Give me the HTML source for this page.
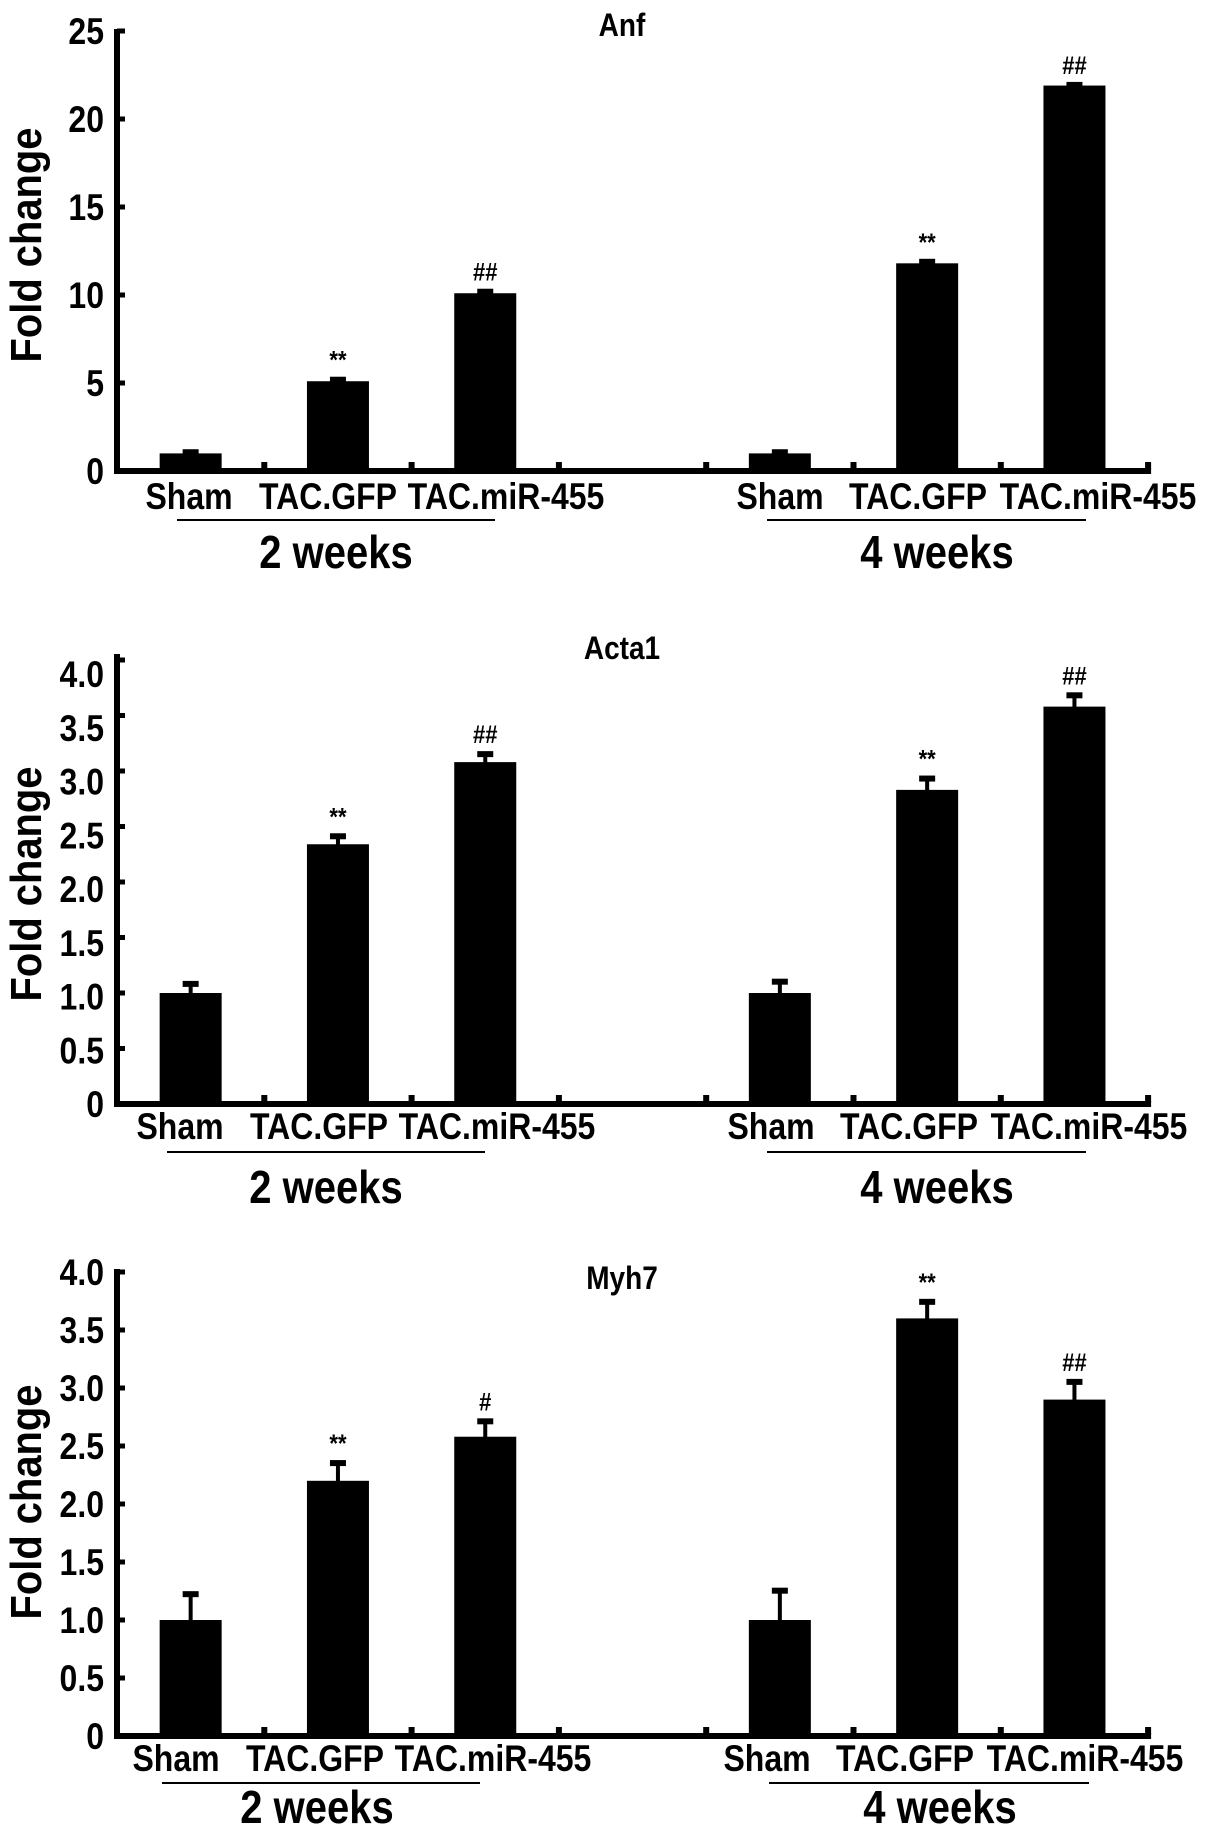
<!DOCTYPE html>
<html><head><meta charset="utf-8"><style>
html,body{margin:0;padding:0;background:#fff;}
svg{display:block;font-family:"Liberation Sans",Arial,sans-serif;font-weight:bold;}
</style></head>
<body>
<svg id="chart" width="1205" height="1847" viewBox="0 0 1205 1847" xmlns="http://www.w3.org/2000/svg"></svg>
<script>
// ----- shared categories -----
const categories = ["Sham","TAC.GFP","TAC.miR-455","Sham","TAC.GFP","TAC.miR-455"];
const slotIndex = [0,1,2,4,5,6];
const groups = ["2 weeks","4 weeks"];

// ----- Anf -----
const anfValues = [1.0, 5.1, 10.1, 1.0, 11.8, 21.9];
const anfErrors = [0.18, 0.2, 0.2, 0.18, 0.2, 0.15];
const anfMarks = ["", "**", "##", "", "**", "##"];
const anfTicks = [0,5,10,15,20,25];
const anfTickLabels = ["0","5","10","15","20","25"];

// ----- Acta1 -----
const actaValues = [1.0, 2.34, 3.08, 1.0, 2.83, 3.58];
const actaErrors = [0.1, 0.09, 0.09, 0.12, 0.12, 0.12];
const actaMarks = ["", "**", "##", "", "**", "##"];
const actaTicks = [0,0.5,1,1.5,2,2.5,3,3.5,4];
const actaTickLabels = ["0","0.5","1.0","1.5","2.0","2.5","3.0","3.5","4.0"];

// ----- Myh7 -----
const myhValues = [1.0, 2.2, 2.58, 1.0, 3.6, 2.9];
const myhErrors = [0.24, 0.17, 0.15, 0.27, 0.16, 0.17];
const myhMarks = ["", "**", "#", "", "**", "##"];
const myhTicks = [0,0.5,1,1.5,2,2.5,3,3.5,4];
const myhTickLabels = ["0","0.5","1.0","1.5","2.0","2.5","3.0","3.5","4.0"];

const svg = document.getElementById('chart');
const NS = "http://www.w3.org/2000/svg";
function mk(tag, attrs, parent){
  const e = document.createElementNS(NS, tag);
  for (const k in attrs) e.setAttribute(k, attrs[k]);
  (parent||svg).appendChild(e);
  return e;
}
function txt(parent, x, y, size, anchor, str){
  const e = mk('text', {x:0, y:0, 'font-size':size, 'text-anchor':anchor,
    transform:'translate(' + x + ',' + y + ') scale(1,1.15)'}, parent);
  e.textContent = str;
  return e;
}

const AX = 117, SLOT = 147.3, BARW = 62;
function xCenter(i){ return AX + (slotIndex[i] + 0.5) * SLOT; }

function drawPanel(cfg, values, errors, marks, ticks, tickLabels){
  const g = mk('g', {});
  
  
  const yScale = v => cfg.y0 - (v / cfg.max) * (cfg.y0 - cfg.yMax);

  const t = txt(g, 622, cfg.titleY, 28, 'middle', cfg.title);
  
  

  const yt = mk('text', {x:0, y:0, 'font-size':38, 'text-anchor':'middle',
    transform:'translate(41,' + cfg.yTitleY + ') rotate(-90) scale(1.05,1.15)'}, g);
  yt.textContent = 'Fold change';
  
  

  const ya = mk('rect', {x:AX-3, y:cfg.axisTop, width:6, height:cfg.y0 - cfg.axisTop + 3, fill:'#000'}, g);
  
  
  ticks.forEach((v, i) => {
    const y = yScale(v);
    const tk = mk('rect', {x:AX, y:y-2.5, width:8, height:5, fill:'#000'}, g);
    
    
    const lab = txt(g, 104, y + 13 + cfg.labShift * v, 32, 'end', tickLabels[i]);
    
    
  });

  const xa = mk('rect', {x:AX-3, y:cfg.y0-3, width:7*SLOT + 6, height:6, fill:'#000'}, g);
  
  
  for (let k = 1; k <= 7; k++){
    const tk = mk('rect', {x:AX + k*SLOT - 3, y:cfg.y0-9, width:6, height:7, fill:'#000'}, g);
    
    
  }

  values.forEach((v, i) => {
    const cx = xCenter(i);
    const top = yScale(v);
    const bar = mk('rect', {x:cx - BARW/2, y:top, width:BARW, height:cfg.y0 - top, fill:'#000'}, g);
    
    
    const et = yScale(v + errors[i]);
    const stem = mk('rect', {x:cx-2, y:et, width:4, height:top - et + 1, fill:'#000'}, g);
    
    
    const cap = mk('rect', {x:cx-8, y:et-1, width:16, height:6, fill:'#000'}, g);
    
    
    if (marks[i]){
      const m = txt(g, cx, et - 9, 22, 'middle', marks[i]);
      
      
    }
    const cl = txt(g, cfg.labCenters[i] + cfg.labDx, cfg.labY, 32, 'middle', categories[i]);
    
    
  });

  groups.forEach((gname, j) => {
    const u = cfg.under[j];
    const ln = mk('rect', {x:u[0], y:cfg.underY, width:u[1]-u[0], height:2, fill:'#000'}, g);
    
    
    const gl = txt(g, cfg.groupX[j], cfg.groupY, 40, 'middle', gname);
    
    
  });
}

const labCenters = [189, 328, 506, 780, 918, 1098];

drawPanel({name:'anf', title:'Anf', titleY:36, y0:471, yMax:31, max:25, axisTop:29, labShift:0,
  yTitleY:245, labCenters:labCenters, labDx:0, labY:509, underY:519, under:[[177,495],[767,1086]],
  groupX:[336,937], groupY:568}, anfValues, anfErrors, anfMarks, anfTicks, anfTickLabels);

drawPanel({name:'acta1', title:'Acta1', titleY:659, y0:1104, yMax:660, max:4, axisTop:654, labShift:3.5,
  yTitleY:884, labCenters:labCenters, labDx:-9, labY:1139, underY:1151, under:[[167,485],[767,1086]],
  groupX:[326,937], groupY:1203}, actaValues, actaErrors, actaMarks, actaTicks, actaTickLabels);

drawPanel({name:'myh7', title:'Myh7', titleY:1289, y0:1736, yMax:1272, max:4, axisTop:1269, labShift:0,
  yTitleY:1502, labCenters:labCenters, labDx:-13, labY:1771, underY:1782, under:[[162,480],[769,1089]],
  groupX:[317,940], groupY:1823}, myhValues, myhErrors, myhMarks, myhTicks, myhTickLabels);
</script>
</body></html>
